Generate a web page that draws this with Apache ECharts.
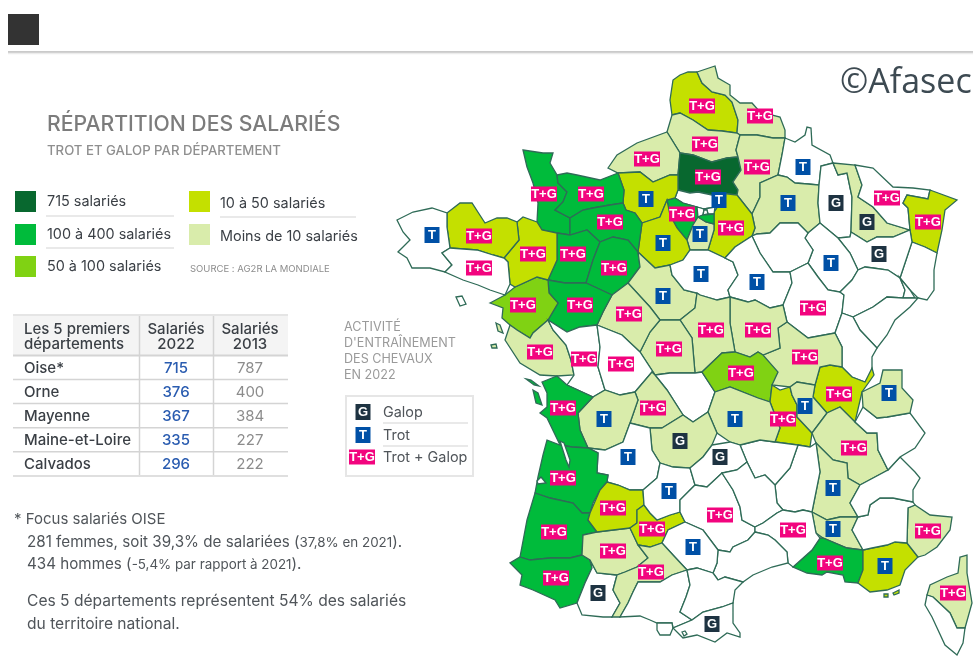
<!DOCTYPE html>
<html>
<head>
<meta charset="utf-8">
<title>Répartition des salariés</title>
<script src="https://cdn.jsdelivr.net/npm/echarts@6/dist/echarts.min.js"></script>
<style>
  html, body { margin: 0; padding: 0; background: #fff; }
  #chart { width: 973px; height: 658px; }
</style>
</head>
<body>
<div id="chart"></div>
<script>
// salary classes
const class715 = ['Oise']
const class100to400 = ['Manche', 'Calvados', 'Orne', 'Mayenne', 'Sarthe', 'Maine-et-Loire', 'Yvelines',
  'Charente-Maritime', 'Gironde', 'Landes', 'Pyrénées-Atlantiques', 'Bouches-du-Rhône', 'Val-de-Marne']
const class50to100 = ['Loire-Atlantique', 'Allier']
const class10to50 = ['Pas-de-Calais', 'Eure', 'Eure-et-Loir', 'Seine-et-Marne', "Côtes-d'Armor", 'Ille-et-Vilaine',
  'Bas-Rhin', 'Ain', 'Loire', 'Lot-et-Garonne', 'Tarn-et-Garonne', 'Var']
const classUnder10 = ['Nord', 'Somme', 'Seine-Maritime', 'Aisne', 'Marne', 'Meurthe-et-Moselle', 'Essonne',
  'Loir-et-Cher', 'Indre-et-Loire', 'Indre', 'Cher', 'Nièvre', 'Saône-et-Loire', 'Vendée', 'Haute-Vienne',
  'Charente', 'Corrèze', 'Puy-de-Dôme', 'Rhône', 'Isère', 'Drôme', 'Vaucluse', 'Alpes-Maritimes',
  'Haute-Savoie', 'Gers', 'Haute-Garonne', 'Haute-Corse']

// training activity per department
const activityGalop = ['Meurthe-et-Moselle', 'Vosges', 'Meuse', 'Corrèze', 'Cantal', 'Hautes-Pyrénées', 'Pyrénées-Orientales']
const activityTrot = ['Finistère', 'Eure', 'Eure-et-Loir', 'Essonne', "Val-d'Oise", 'Ardennes', 'Marne', 'Haute-Marne',
  'Loiret', 'Yonne', 'Loir-et-Cher', 'Puy-de-Dôme', 'Rhône', 'Haute-Savoie', 'Charente', 'Dordogne', 'Lot', 'Tarn',
  'Drôme', 'Vaucluse', 'Var']
const activityBoth = ['Pas-de-Calais', 'Nord', 'Somme', 'Seine-Maritime', 'Oise', 'Aisne', 'Moselle', 'Bas-Rhin', 'Manche',
  'Calvados', 'Orne', 'Yvelines', 'Seine-et-Marne', "Côtes-d'Armor", 'Ille-et-Vilaine', 'Mayenne', 'Sarthe', 'Morbihan',
  'Loire-Atlantique', 'Maine-et-Loire', 'Indre-et-Loire', 'Cher', 'Nièvre', "Côte-d'Or", 'Vendée', 'Deux-Sèvres', 'Vienne',
  'Indre', 'Saône-et-Loire', 'Allier', 'Ain', 'Loire', 'Isère', 'Charente-Maritime', 'Haute-Vienne', 'Gironde', 'Landes',
  'Lot-et-Garonne', 'Tarn-et-Garonne', 'Aveyron', 'Gers', 'Haute-Garonne', 'Pyrénées-Atlantiques', 'Gard',
  'Bouches-du-Rhône', 'Alpes-Maritimes', 'Haute-Corse']

// top 5 table
const topDepartments = ['Oise*', 'Orne', 'Mayenne', 'Maine-et-Loire', 'Calvados']
const salaries2022 = [715, 376, 367, 335, 296]
const salaries2013 = [787, 400, 384, 227, 222]

const classLabels = ['715 salariés', '100 à 400 salariés', '50 à 100 salariés', '10 à 50 salariés', 'Moins de 10 salariés']
const activityLabels = ['Galop', 'Trot', 'Trot + Galop']

const classColors = ['#08682f', '#00bb3b', '#80d213', '#c4e000', '#d9ecab']
const borderColor = '#2f6b57'

// base map: rough department outlines traced in page pixels, [label x, label y, rings]
const outlines = {
  'Pas-de-Calais': [702, 106, '697,72 702,83 712,92 725,95 732,102 738,120 737,133 722,131 708,130 693,120 680,113 672,115 670,100 673,80 680,75 688,72'],
  'Nord': [760, 116, '697,72 715,66 718,78 730,85 730,95 740,103 752,103 760,112 780,117 785,130 785,138 773,138 757,135 740,135 737,133 738,120 732,102 725,95 712,92 702,83'],
  'Somme': [705, 144, '672,115 680,113 693,120 708,130 722,131 737,133 740,135 736,150 738,157 727,158 712,162 693,155 680,153 667,132'],
  'Seine-Maritime': [647, 159, '608,168 617,155 637,143 667,132 680,153 678,175 670,175 653,182 640,172 618,173'],
  'Oise': [708, 177, '680,153 693,155 712,162 727,158 738,157 741,170 733,182 738,190 737,195 720,193 712,195 698,192 690,193 678,190 678,175'],
  'Aisne': [757, 167, '740,135 757,135 773,138 785,138 782,155 778,175 760,183 760,197 752,214 737,195 738,190 733,182 741,170 738,157 736,150'],
  'Ardennes': [803, 167, '785,138 795,142 805,135 807,127 811,128 812,145 830,155 833,163 821,166 819,185 808,184 795,183 787,177 778,175 782,155'],
  'Marne': [788, 203, '778,175 787,177 795,183 808,184 819,185 818,203 820,223 808,233 798,223 780,223 770,233 757,234 752,236 755,228 752,214 760,197 760,183'],
  'Meuse': [836, 203, '833,163 838,175 847,173 852,197 851,232 850,237 838,238 820,223 818,203 819,185 821,166'],
  'Meurthe-et-Moselle': [867, 222, '833,163 855,165 862,185 858,197 873,207 887,223 910,230 893,237 877,237 867,242 851,232 852,197 847,173 838,175'],
  'Moselle': [887, 198, '855,165 873,168 893,187 913,188 930,190 928,199 907,195 903,203 908,208 910,230 887,223 873,207 858,197 862,185'],
  'Bas-Rhin': [928, 222, '930,190 957,200 945,210 942,230 937,253 925,247 912,242 910,230 908,208 903,203 907,195 928,199'],
  'Haut-Rhin': [0, 0, '912,242 925,247 937,253 934,270 934,290 927,300 918,298 910,290 900,278 907,257'],
  'Vosges': [879, 254, '838,238 850,237 851,232 867,242 877,237 893,237 910,230 912,242 907,257 900,278 888,270 873,268 865,267 858,270 850,253'],
  'Haute-Marne': [831, 263, '808,233 820,223 838,238 850,253 858,270 852,280 840,292 828,290 818,277 808,263 813,250 805,238'],
  'Aube': [0, 0, '770,233 780,223 798,223 808,233 805,238 813,250 808,263 790,272 773,272 760,253 752,236 757,234'],
  'Seine-et-Marne': [731, 228, '714,212 722,200 720,193 737,195 752,214 755,228 752,236 735,247 725,258 708,250 714,230 714,224'],
  "Val-d'Oise": [719, 200, '678,190 690,193 698,192 712,195 720,193 722,200 714,212 715,207 704,209 697,207 683,203 675,198'],
  'Yvelines': [682, 214, '667,200 675,198 683,203 697,207 698,217 693,225 687,240 677,228 670,215'],
  'Essonne': [700, 234, '698,217 706,222 714,224 714,230 708,250 690,250 687,240 693,225'],
  'Hauts-de-Seine': [0, 0, '697,207 704,209 703,215 698,217'],
  'Seine-Saint-Denis': [0, 0, '704,209 715,207 714,214 708,214 707,210'],
  'Paris': [0, 0, '704,210 707,210 708,214 703,215'],
  'Val-de-Marne': [0, 0, '698,217 703,215 714,214 714,224 706,222'],
  'Eure': [646, 199, '618,173 640,172 653,182 670,175 678,175 678,190 675,198 667,200 660,217 642,223 635,213 626,210 623,203 624,190'],
  'Eure-et-Loir': [663, 243, '642,223 660,217 667,200 670,215 677,228 687,240 690,250 683,260 670,265 655,268 638,252'],
  'Manche': [544, 194, '523,150 543,153 553,153 550,163 557,175 558,183 567,192 563,202 555,210 570,218 570,235 557,233 542,230 537,222 538,203 533,183 527,167'],
  'Calvados': [591, 194, '557,175 567,173 577,175 600,180 618,173 624,190 623,203 610,205 593,208 583,210 570,218 555,210 563,202 567,192 558,183'],
  'Orne': [610, 222, '570,218 583,210 593,208 610,205 623,203 626,210 635,213 642,223 638,252 628,240 613,237 600,242 587,230 570,235'],
  'Mayenne': [573, 254, '557,233 570,235 587,230 600,242 593,260 586,283 565,283 548,280 557,260'],
  'Sarthe': [614, 268, '600,242 613,237 628,240 638,252 640,267 628,283 612,295 597,288 586,283 593,260'],
  'Loir-et-Cher': [663, 296, '638,252 655,268 670,265 672,275 684,290 697,293 695,308 680,320 660,320 650,307 628,283 640,267'],
  'Loiret': [701, 274, '670,265 683,260 690,250 708,250 725,258 733,262 738,275 728,290 730,297 717,300 700,295 697,293 684,290 672,275'],
  'Yonne': [757, 282, '725,258 735,247 752,236 760,253 773,272 790,272 792,283 783,305 770,308 755,300 748,302 730,297 728,290 738,275 733,262'],
  "Côte-d'Or": [813, 308, '790,272 808,263 818,277 828,290 840,292 844,295 842,313 835,333 808,338 787,322 783,305 792,283'],
  'Haute-Saône': [0, 0, '840,292 852,280 858,270 865,267 873,268 888,270 900,278 905,290 903,298 887,297 873,307 853,317 842,313 844,295'],
  'Territoire de Belfort': [0, 0, '900,278 910,290 915,298 903,298 905,290'],
  'Doubs': [0, 0, '853,317 873,307 887,297 903,298 915,298 918,298 910,307 895,320 887,335 877,348 860,330'],
  'Jura': [0, 0, '842,313 853,317 860,330 877,348 872,357 872,372 865,382 852,377 842,367 842,347 835,333'],
  'Ain': [839, 394, '815,385 820,367 830,365 842,367 852,377 865,382 872,368 874,375 862,392 855,422 840,407 827,413 813,397'],
  'Saône-et-Loire': [805, 357, '778,328 787,322 808,338 835,333 842,347 842,367 830,365 820,367 815,385 797,382 790,387 772,385 763,355 780,348'],
  'Nièvre': [758, 330, '730,297 748,302 755,300 770,308 783,305 787,322 778,328 780,348 763,355 758,352 750,357 735,352 730,323'],
  'Cher': [711, 330, '697,293 700,295 717,300 730,297 730,323 735,352 722,353 702,372 695,373 692,338 680,320 695,308'],
  'Indre': [669, 349, '660,320 680,320 692,338 695,373 670,373 655,375 640,352 650,332'],
  'Indre-et-Loire': [629, 314, '612,295 628,283 650,307 660,320 650,332 640,352 622,335 597,325 603,312'],
  'Maine-et-Loire': [580, 305, '548,280 565,283 586,283 597,288 612,295 603,312 597,325 580,327 567,332 548,320 558,303 549,293'],
  'Loire-Atlantique': [523, 305, '490,303 505,295 515,287 537,277 548,280 549,293 558,303 548,320 533,333 530,338 517,330 510,325 502,318 503,308'],
  'Ille-et-Vilaine': [533, 254, '517,222 523,217 537,222 542,230 557,233 557,260 548,280 537,277 515,287 510,284 508,262 504,258 519,240'],
  "Côtes-d'Armor": [479, 236, '447,213 460,203 472,203 485,223 497,218 507,218 517,222 519,240 504,258 493,255 477,250 450,248 447,227'],
  'Finistère': [432, 235, '397,220 413,212 432,208 447,213 447,227 450,248 442,253 452,265 445,272 430,268 412,268 407,258 398,252 410,240 403,232'],
  'Morbihan': [479, 268, '442,253 450,248 477,250 493,255 504,258 508,262 510,284 505,295 490,290 478,285 463,280 445,272 452,265|456,297 462,296 466,304 460,306'],
  'Vendée': [540, 352, '505,340 510,325 517,330 530,338 533,333 548,320 553,330 566,345 571,360 574,375 557,376 540,375 520,363|496,323 500,325 503,333 498,331|491,345 496,344 497,348 492,348'],
  'Deux-Sèvres': [584, 359, '548,320 567,332 580,327 597,325 600,347 598,367 605,390 593,397 567,385 574,375 571,360 566,345 553,330'],
  'Vienne': [621, 364, '597,325 622,335 640,352 655,375 652,372 635,392 620,395 605,390 598,367 600,347'],
  'Creuse': [0, 0, '655,375 670,373 695,373 702,372 715,392 708,412 693,422 683,415 667,390'],
  'Haute-Vienne': [653, 408, '652,372 655,375 667,390 683,415 662,428 650,428 630,423 638,400 635,392'],
  'Allier': [741, 373, '702,372 722,353 735,352 750,357 758,352 763,355 778,372 772,385 770,402 758,398 730,387 715,392'],
  'Loire': [783, 419, '772,385 780,390 790,387 792,395 797,405 797,417 812,433 810,447 798,445 775,442 780,428 770,402'],
  'Rhône': [805, 406, '790,387 797,382 815,385 813,397 827,413 812,433 797,417 797,405 792,395'],
  'Isère': [854, 448, '812,433 827,413 840,407 855,422 867,433 877,433 878,450 888,470 860,485 848,478 847,463 833,460 816,443'],
  'Drôme': [833, 488, '816,443 833,460 847,463 848,478 860,485 850,503 858,517 840,517 827,520 812,512 820,472'],
  'Vaucluse': [833, 529, '812,512 827,520 840,517 858,517 852,530 863,550 847,548 823,538 816,533'],
  'Bouches-du-Rhône': [830, 563, '793,567 812,550 820,538 823,538 847,548 863,550 863,570 858,583 845,582 843,575 827,572 822,575 807,573'],
  'Var': [885, 566, '863,550 872,548 887,545 895,542 907,543 918,557 905,570 900,585 887,590 870,592 858,583 863,570|884,594 888,594 888,597 884,597|893,593 899,590 899,593 894,595'],
  'Alpes-Maritimes': [928, 531, '907,543 908,508 915,505 930,515 952,517 950,530 937,547 925,555 918,557'],
  'Alpes-de-Haute-Provence': [0, 0, '863,550 852,530 858,517 868,515 870,505 880,498 893,498 913,502 915,505 908,508 907,543 895,542 887,545 872,548'],
  'Hautes-Alpes': [0, 0, '860,485 888,470 900,457 915,472 920,478 913,490 913,502 893,498 880,498 870,505 868,515 858,517 850,503'],
  'Savoie': [0, 0, '855,422 863,407 877,418 887,417 910,413 925,433 915,448 900,457 888,470 878,450 877,433 867,433'],
  'Haute-Savoie': [889, 393, '862,392 880,383 883,370 902,370 902,388 913,400 910,413 887,417 877,418 863,407'],
  'Ardèche': [0, 0, '798,445 810,447 816,443 820,472 812,512 803,510 795,512 783,510 777,503 775,485 790,468'],
  'Haute-Loire': [0, 0, '740,445 760,440 775,442 798,445 790,468 775,485 765,475 755,478 747,462'],
  'Puy-de-Dôme': [735, 419, '715,392 730,387 758,398 770,402 780,428 775,442 760,440 740,445 730,442 717,433 708,412'],
  'Corrèze': [680, 441, '662,428 683,415 693,422 708,412 717,433 712,445 703,457 690,468 673,467 660,463 652,450 650,428'],
  'Charente': [604, 419, '578,413 593,397 605,390 620,395 635,392 638,400 630,423 623,442 605,450 588,448 580,430'],
  'Dordogne': [628, 457, '588,448 605,450 623,442 630,423 650,428 652,450 660,463 657,478 643,490 630,490 618,485 607,482 608,475 597,473 598,453'],
  'Charente-Maritime': [563, 408, '542,382 557,376 567,385 593,397 578,413 580,430 588,448 572,447 560,445 547,418 540,413 547,407 547,393|526,379 531,380 539,386 534,385|533,390 538,393 542,405 536,403'],
  'Gironde': [563, 478, '547,440 560,445 572,447 588,448 598,453 597,473 608,475 607,482 600,490 593,503 590,513 582,513 573,503 550,498 535,493 538,477 543,455'],
  'Estuaire': [0, 0, '560,441 564,443 570,460 569,467 566,460'],
  "Bassin d'Arcachon": [0, 0, '537,481 541,477 546,483 538,484'],
  'Landes': [554, 532, '535,493 550,498 573,503 582,513 590,513 588,520 597,532 583,535 582,555 570,558 550,558 530,560 520,557 527,520'],
  'Pyrénées-Atlantiques': [556, 578, '520,557 530,560 550,558 570,558 582,555 590,560 592,568 585,583 577,603 560,608 555,600 533,590 520,585 522,575 510,563'],
  'Hautes-Pyrénées': [598, 593, '590,560 597,573 617,575 613,590 620,603 612,617 603,617 582,615 577,603 585,583 592,568'],
  'Gers': [613, 551, '583,535 597,532 613,530 630,528 638,545 648,558 637,567 625,572 617,575 597,573 590,560 582,555'],
  'Lot-et-Garonne': [613, 508, '590,513 600,490 607,482 618,485 630,490 643,490 644,505 637,510 637,523 630,528 613,530 597,532 588,520'],
  'Tarn-et-Garonne': [652, 529, '637,510 644,505 650,513 657,520 670,515 680,512 685,522 668,530 662,543 650,547 638,545 630,528 637,523'],
  'Lot': [669, 491, '643,490 657,478 660,463 673,467 690,468 695,485 680,500 680,512 670,515 657,520 650,513 644,505'],
  'Cantal': [720, 457, '712,445 730,442 740,445 747,462 737,470 722,473 707,487 695,485 690,468 703,457'],
  'Aveyron': [720, 515, '680,500 695,485 707,487 722,473 733,490 740,507 742,520 755,527 755,532 748,540 733,547 730,552 718,550 703,530 685,522 680,512'],
  'Lozère': [0, 0, '722,473 737,470 747,462 755,478 765,475 775,485 777,503 783,510 777,513 763,523 755,527 742,520 740,507 733,490'],
  'Gard': [793, 530, '755,527 763,523 777,513 783,510 795,512 803,510 812,512 816,533 820,538 812,550 793,567 788,563 787,552 775,540 768,535 755,532'],
  'Hérault': [0, 0, '718,550 730,552 733,547 748,540 755,532 768,535 775,540 787,552 788,563 772,567 753,575 743,582 725,577 718,580 713,573 717,563'],
  'Tarn': [693, 547, '685,522 703,530 718,550 717,563 713,573 697,568 687,570 673,555 662,543 668,530'],
  'Haute-Garonne': [651, 572, '638,545 650,547 662,543 673,555 687,570 672,575 660,582 647,582 638,582 633,592 628,603 620,617 612,617 620,603 613,590 617,575 625,572 637,567 648,558'],
  'Ariège': [0, 0, '638,582 647,582 660,582 672,575 687,570 690,585 686,597 680,612 692,620 673,628 672,623 657,623 650,620 640,616 620,617 628,603 633,592'],
  'Andorre': [0, 0, '657,623 672,623 673,628 670,635 660,635 657,630'],
  'Aude': [0, 0, '687,570 697,568 713,573 718,580 725,577 743,582 735,590 733,603 722,607 703,612 692,620 680,612 686,597 690,585'],
  'Pyrénées-Orientales': [712, 624, '692,620 703,612 722,607 733,603 733,623 740,633 740,637 727,633 715,642 697,635 683,638 673,628'],
  'Llívia': [0, 0, '682,632 685,631 687,634 684,636'],
  'Haute-Corse': [953, 593, '960,557 967,555 967,573 972,603 965,628 957,628 950,613 933,597 927,595 930,585 947,577 958,573'],
  'Corse-du-Sud': [0, 0, '927,595 933,597 950,613 957,628 965,628 963,643 957,655 945,645 932,617 925,605']
}

function ring(text) {
  let pts = text.split(' ').map(p => p.split(',').map(Number))
  pts.push(pts[0])
  return [pts]
}

const franceMap = {
  type: 'FeatureCollection',
  features: Object.keys(outlines).map(name => {
    let [cx, cy, rings] = outlines[name]
    return {
      type: 'Feature',
      properties: { name: name, cp: [cx, cy] },
      geometry: { type: 'MultiPolygon', coordinates: rings.split('|').map(ring) }
    }
  })
}
echarts.registerMap('france', franceMap)

function badgeOf(name) {
  if (activityGalop.includes(name)) return '{g|G}'
  if (activityTrot.includes(name)) return '{t|T}'
  if (activityBoth.includes(name)) return '{b|T+G}'
  return ''
}

const classLists = [class715, class100to400, class50to100, class10to50, classUnder10]
const mapData = Object.keys(outlines).map(name => {
  let idx = classLists.findIndex(list => list.includes(name))
  return { name: name, value: idx, itemStyle: { areaColor: idx < 0 ? '#fff' : classColors[idx] } }
})

const FONT = 'Inter, "Open Sans", sans-serif'
const badgeStyles = {
  g: { backgroundColor: '#1e3342', color: '#fff', fontFamily: 'Liberation Sans', fontWeight: 'bold', fontSize: 13, width: 15, height: 16, lineHeight: 16, align: 'center' },
  t: { backgroundColor: '#0050a6', color: '#fff', fontFamily: 'Liberation Sans', fontWeight: 'bold', fontSize: 13, width: 15, height: 16, lineHeight: 16, align: 'center' },
  b: { backgroundColor: '#f2047e', color: '#fff', fontFamily: 'Liberation Sans', fontWeight: 'bold', fontSize: 13, width: 26, height: 15, lineHeight: 15, align: 'center' }
}

// graphic helpers
function txt(x, y, text, size, color, extra) {
  return {
    type: 'text', x: x, y: y + 1.5, silent: true,
    style: Object.assign({ text: text, fontSize: size, fill: color, fontFamily: FONT, verticalAlign: 'middle' }, extra || {})
  }
}
function box(x, y, w, h, fill, stroke) {
  return { type: 'rect', silent: true, shape: { x: x, y: y, width: w, height: h }, style: { fill: fill || 'none', stroke: stroke || 'none', lineWidth: stroke ? 2 : 0 } }
}
function rule(x1, y1, x2, y2, color, width) {
  return { type: 'line', silent: true, shape: { x1: x1, y1: y1, x2: x2, y2: y2 }, style: { stroke: color, lineWidth: width || 1 } }
}
function badge(cx, cy, key, text) {
  let s = badgeStyles[key]
  return [
    box(cx - s.width / 2, cy - s.height / 2, s.width, s.height, s.backgroundColor),
    { type: 'text', x: cx, y: cy, silent: true, style: { text: text, fill: '#fff', fontFamily: s.fontFamily, fontWeight: 'bold', fontSize: s.fontSize, align: 'center', verticalAlign: 'middle' } }
  ]
}

const dark = '#3a3f45'
const note = '#50555a'
let graphics = [
  box(8, 14, 31, 31, '#333333'),
  rule(8, 52, 973, 52, '#b9b9b9', 1.5),
  rule(8, 53.5, 973, 53.5, '#ececec', 1.5),
  txt(840, 82, '©Afasec', 34, '#3d4a52', { fontFamily: 'Open Sans' }),
  txt(47, 123, 'RÉPARTITION DES SALARIÉS', 21.2, '#7c7c7c', { fontWeight: 500 }),
  txt(47, 150, 'TROT ET GALOP PAR DÉPARTEMENT', 13.2, '#8f8f8f', { fontWeight: 500 }),
  txt(190, 268, 'SOURCE : AG2R LA MONDIALE', 9.5, '#8d8d8d')
]

// colour key
const keySpots = [[15, 191, 47, 200], [15, 224, 47, 233], [15, 256, 47, 265], [189, 191, 220, 202], [189, 224, 220, 235]]
classLabels.forEach((label, i) => {
  let [bx, by, tx, ty] = keySpots[i]
  graphics.push(box(bx, by, 21, 21, classColors[i]))
  graphics.push(txt(tx, ty, label, 14.4, dark))
})
graphics.push(rule(46, 216, 174, 216, '#e2e2e2', 1.5), rule(46, 248, 174, 248, '#e2e2e2', 1.5), rule(220, 217, 356, 217, '#e2e2e2', 1.5))

// top 5 table
const head = { fontWeight: 500 }
const headMid = { fontWeight: 500, align: 'center' }
graphics.push(box(13, 316, 275, 39, '#f4f4f4'))
graphics.push(txt(24, 328, 'Les 5 premiers', 15, dark, head), txt(24, 343, 'départements', 15, dark, head))
graphics.push(txt(176, 328, 'Salariés', 15, dark, headMid), txt(176, 343, '2022', 15, dark, headMid))
graphics.push(txt(250, 328, 'Salariés', 15, dark, headMid), txt(250, 343, '2013', 15, dark, headMid))
graphics.push(rule(13, 315, 288, 315, '#dcdcdc', 1.5), rule(13, 355.5, 288, 355.5, '#d4d4d4', 2))
topDepartments.forEach((name, i) => {
  let y = 367 + i * 24.1
  graphics.push(txt(24, y, name, 15, dark, head))
  graphics.push(txt(176, y, String(salaries2022[i]), 15, '#2a5cb0', headMid))
  graphics.push(txt(250, y, String(salaries2013[i]), 15, '#8c8c8c', { align: 'center' }))
  graphics.push(rule(13, y + 12.5, 288, y + 12.5, '#d4d4d4', 1.5))
})
graphics.push(rule(139.5, 316, 139.5, 475, '#d4d4d4', 1.5), rule(213.5, 316, 213.5, 475, '#d4d4d4', 1.5))

// activity key
;['ACTIVITÉ', "D'ENTRAÎNEMENT", 'DES CHEVAUX', 'EN 2022'].forEach((line, i) => {
  graphics.push(txt(344, 326 + i * 16, line, 12.6, '#9a9a9a'))
})
graphics.push(box(346, 396, 127, 80, 'none', '#e6e6e6'))
graphics.push(...badge(363, 412, 'g', 'G'), ...badge(363, 435, 't', 'T'), ...badge(362, 457, 'b', 'T+G'))
activityLabels.forEach((label, i) => {
  graphics.push(txt(383, [411, 434, 456][i], label, 14.4, note))
})
graphics.push(rule(383, 423, 468, 423, '#e2e2e2', 1.5), rule(383, 446, 468, 446, '#e2e2e2', 1.5))

// footnotes
const noteRich = { s: { fontSize: 13.4, fill: note, fontFamily: FONT, color: note } }
graphics.push(txt(14, 518, '* Focus salariés OISE', 15, note))
graphics.push(txt(27, 541, '281 femmes, soit 39,3% de salariées ({s|37,8% en 2021}).', 15.2, note, { rich: noteRich }))
graphics.push(txt(27, 563, '434 hommes ({s|-5,4% par rapport à 2021}).', 15.2, note, { rich: noteRich }))
graphics.push(txt(27, 600, 'Ces 5 départements représentent 54% des salariés', 15.6, note))
graphics.push(txt(27, 623, 'du territoire national.', 15.6, note))

let myChart = echarts.init(document.getElementById('chart'), null, { renderer: 'canvas' })
myChart.setOption({
  animation: false,
  backgroundColor: '#fff',
  graphic: graphics,
  series: [{
    type: 'map',
    map: 'france',
    silent: true,
    selectedMode: false,
    roam: false,
    projection: { project: p => p, unproject: p => p },
    boundingCoords: [[0, 0], [973, 658]],
    left: 0,
    top: 0,
    width: 973,
    height: 658,
    itemStyle: { areaColor: '#fff', borderColor: borderColor, borderWidth: 1.3 },
    label: {
      show: true,
      formatter: p => badgeOf(p.name),
      rich: badgeStyles
    },
    data: mapData
  }]
})
</script>
</body>
</html>
